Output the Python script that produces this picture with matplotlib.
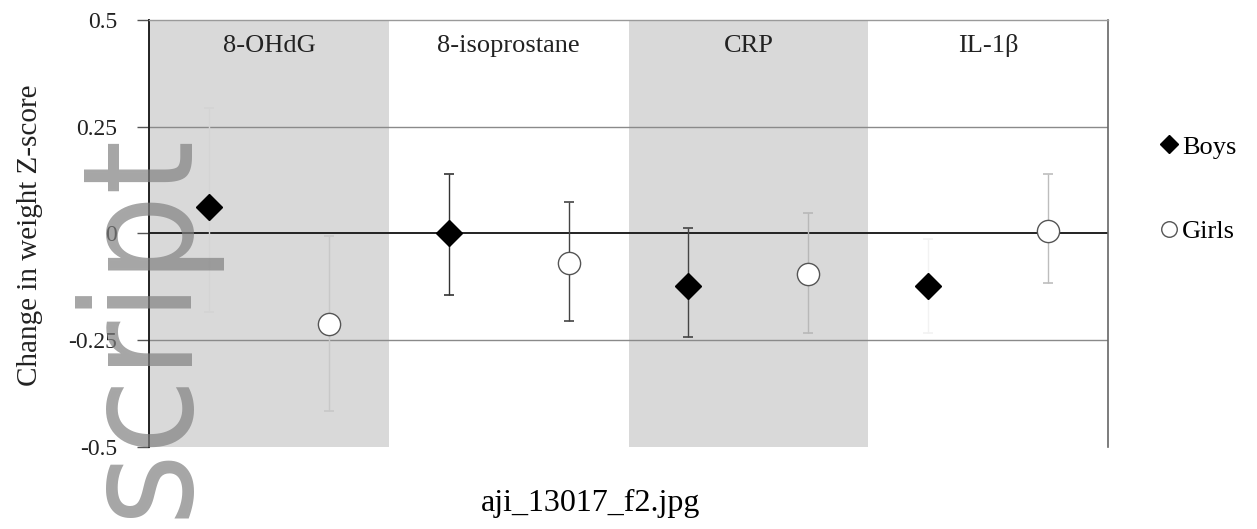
import numpy as np
import matplotlib
matplotlib.use('Agg')
import matplotlib.pyplot as plt

# data (change in weight Z-score)
categories = ['8-OHdG', '8-isoprostane', 'CRP', 'IL-1β']
boys_mean = [0.061, 0.0, -0.122, -0.122]
boys_lo = [-0.183, -0.143, -0.243, -0.232]
boys_hi = [0.295, 0.140, 0.012, -0.012]
girls_mean = [-0.211, -0.070, -0.094, 0.007]
girls_lo = [-0.415, -0.204, -0.234, -0.115]
girls_hi = [-0.005, 0.073, 0.049, 0.140]
yticks = [-0.5, -0.25, 0, 0.25, 0.5]
ytick_labels = ['-0.5', '-0.25', '0', '0.25', '0.5']

serif = 'Liberation Serif'

fig = plt.figure(figsize=(12.57, 5.29), dpi=100)
ax = fig.add_axes([149/1257, 1-447/529, (1108-149)/1257, (447-20)/529])

n = len(categories)
x = np.arange(n)
# shaded bands behind alternate markers
for i in range(n):
    if i % 2 == 0:
        ax.axvspan(i, i+1, color='#d9d9d9', lw=0, zorder=0)
    ax.text(i+0.5, 0.44, categories[i], ha='center', va='center',
            fontsize=19, family=serif, color='#222222')

ax.axhline(0.25, color='#8a8a8a', lw=1, zorder=1)
ax.axhline(-0.25, color='#8a8a8a', lw=1, zorder=1)
ax.axhline(0, color='#222222', lw=1.4, zorder=1)

# error bar line colour per category (some are almost invisible in the original)
boys_ecol = ['#d4d4d4', '#333333', '#444444', '#f2f2f2']
girls_ecol = ['#c8c8c8', '#444444', '#b8b8b8', '#bdbdbd']

xb = x + 0.25
xg = x + 0.75
bm = np.array(boys_mean)
gm = np.array(girls_mean)
for i in range(n):
    for xx, m, lo, hi, ec in ((xb[i], bm[i], boys_lo[i], boys_hi[i], boys_ecol[i]),
                              (xg[i], gm[i], girls_lo[i], girls_hi[i], girls_ecol[i])):
        c = ax.errorbar([xx], [m], yerr=[[m-lo], [hi-m]], fmt='none',
                        ecolor=ec, elinewidth=1, capsize=3.5, capthick=1.2, zorder=2)
        for cl in c[1]:
            cl.set_color('#555555')

ax.plot(xb, bm, ls='none', marker='D', ms=13, mfc='black', mec='black', zorder=3, label='Boys')
ax.plot(xg, gm, ls='none', marker='o', ms=16, mfc='white', mec='#555555', mew=1, zorder=3, label='Girls')

ax.set_xlim(0, n)
ax.set_ylim(-0.5, 0.5)
ax.set_xticks([])
ax.set_yticks(yticks)
ax.set_yticklabels(ytick_labels, family=serif, fontsize=17, color='#222222')
ax.tick_params(axis='y', length=9, width=1, color='#555555', pad=14)
ax.spines['bottom'].set_visible(False)
ax.spines['top'].set_color('#9a9a9a')
ax.spines['top'].set_linewidth(1)
ax.spines['right'].set_color('#666666')
ax.spines['right'].set_linewidth(1.2)
ax.spines['left'].set_color('#222222')
ax.spines['left'].set_linewidth(1.4)

fig.text(30/1257, 1-235/529, 'Change in weight Z-score', rotation=90, ha='center', va='center',
         family=serif, fontsize=21, color='#222222')

leg = fig.legend(loc='upper left', bbox_to_anchor=(1148/1257, 1-122/529), frameon=False,
                 prop={'family': serif, 'size': 19}, markerscale=0.7,
                 handlelength=0.6, handletextpad=0.2, labelspacing=2.3, borderpad=0)

fig.text(591/1257, 1-503/529, 'aji_13017_f2.jpg', ha='center', va='center',
         fontsize=23, family=serif, color='black')

# watermark text
fig.text(186/1257, 1-132/529, 'script', rotation=90, rotation_mode='anchor',
         ha='right', va='baseline', fontsize=111, fontstretch='condensed',
         color='#808080', alpha=0.7, zorder=10)

fig.savefig('out.png', dpi=100)
